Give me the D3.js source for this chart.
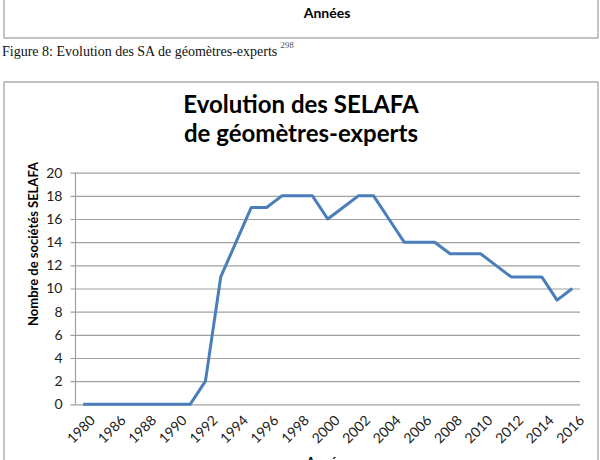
<!DOCTYPE html>
<html>
<head>
<meta charset="utf-8">
<script src="https://cdn.jsdelivr.net/npm/d3@7"></script>
<style>
  body { margin: 0; background: #fff; }
  svg { display: block; }
</style>
</head>
<body>
<div id="chart"></div>
<script>
// Data
const years = ['1980', '1985', '1986', '1987', '1988', '1989', '1990', '1991', '1992', '1993',
  '1994', '1995', '1996', '1997', '1998', '1999', '2000', '2001', '2002', '2003', '2004',
  '2005', '2006', '2007', '2008', '2009', '2010', '2011', '2012', '2013', '2014', '2015', '2016']
const selafa = [0, 0, 0, 0, 0, 0, 0, 0, 2, 11,
  14, 17, 17, 18, 18, 18, 16, 17, 18, 18, 16,
  14, 14, 14, 13, 13, 13, 12, 11, 11, 11, 9, 10]
const yTicks = [0, 2, 4, 6, 8, 10, 12, 14, 16, 18, 20]
const titleLines = ['Evolution des SELAFA', 'de géomètres-experts']

const font = 'Lato, "Open Sans", sans-serif'

// Dimensions
let dimensions = {
  width: 600,
  height: 460,
  plotLeft: 75.5,
  plotRight: 580,
  plotTop: 172.7,
  plotBottom: 404.3,
}

const svg = d3.select('#chart')
  .append('svg')
  .attr('width', dimensions.width)
  .attr('height', dimensions.height)

// upper box (end of previous figure)
svg.append('rect')
  .attr('x', 4).attr('y', -10)
  .attr('width', 594).attr('height', 48)
  .attr('fill', 'none')
  .attr('stroke', '#b0b0b0')
  .attr('stroke-width', 1.5)

svg.append('text')
  .attr('x', 327).attr('y', 18)
  .attr('text-anchor', 'middle')
  .style('font-family', font)
  .style('font-weight', 'bold')
  .style('font-size', '14px')
  .text('Années')

// caption
const caption = svg.append('text')
  .attr('x', 2).attr('y', 56)
  .style('font-family', '"Liberation Serif", "Times New Roman", serif')
  .style('font-size', '14px')
  .attr('fill', '#111')
caption.append('tspan').text('Figure 8: Evolution des SA de géomètres-experts')
caption.append('tspan')
  .attr('dx', 3).attr('dy', -8)
  .style('font-size', '9px')
  .attr('fill', '#555')
  .text('298')

// chart box
svg.append('rect')
  .attr('x', 4).attr('y', 82)
  .attr('width', 594).attr('height', 400)
  .attr('fill', '#fff')
  .attr('stroke', '#b0b0b0')
  .attr('stroke-width', 1.5)

// Title
svg.append('text')
  .attr('text-anchor', 'middle')
  .style('font-family', font)
  .style('font-weight', 'bold')
  .style('font-size', '24px')
  .selectAll('tspan')
  .data(titleLines)
  .join('tspan')
  .attr('x', 301)
  .attr('y', (d, i) => 113 + i * 29)
  .text(d => d)

// Scales
const xScale = d3.scaleBand()
  .domain(years)
  .range([dimensions.plotLeft, dimensions.plotRight])
  .paddingInner(0)
  .paddingOuter(0)

const xPos = d => xScale(d) + xScale.bandwidth() / 2

const yScale = d3.scaleLinear()
  .domain([0, 20])
  .range([dimensions.plotBottom, dimensions.plotTop])

// y axis with gridlines
const yAxis = d3.axisLeft(yScale)
  .tickValues(yTicks)
  .tickSize(-(dimensions.plotRight - dimensions.plotLeft))
  .tickPadding(9)

const yAxisGroup = svg.append('g')
  .attr('transform', `translate(${dimensions.plotLeft}, 0)`)
  .call(yAxis)

yAxisGroup.select('.domain').remove()
yAxisGroup.selectAll('.tick line')
  .attr('x2', dimensions.plotRight - dimensions.plotLeft)
  .attr('x1', -5)
  .attr('stroke', '#a0a0a0')
  .attr('stroke-width', 1.2)
yAxisGroup.selectAll('.tick text')
  .attr('x', -13)
  .style('font-family', font)
  .style('font-size', '14px')
  .attr('fill', '#222')

// vertical axis line
svg.append('line')
  .attr('x1', dimensions.plotLeft).attr('x2', dimensions.plotLeft)
  .attr('y1', dimensions.plotTop).attr('y2', dimensions.plotBottom)
  .attr('stroke', '#a0a0a0')
  .attr('stroke-width', 1.2)

// x axis labels (every second category)
const xLabels = years.filter((d, i) => i % 2 === 0)

svg.append('g')
  .selectAll('text')
  .data(xLabels)
  .join('text')
  .attr('transform', d => `translate(${xPos(d) + 6}, ${dimensions.plotBottom + 10}) rotate(-45)`)
  .attr('text-anchor', 'end')
  .attr('dy', '0.7em')
  .style('font-family', font)
  .style('font-size', '14px')
  .attr('fill', '#222')
  .text(d => d)

// axis titles
svg.append('text')
  .attr('transform', 'translate(38, 244) rotate(-90)')
  .attr('text-anchor', 'middle')
  .style('font-family', font)
  .style('font-weight', 'bold')
  .style('font-size', '13px')
  .text('Nombre de sociétés SELAFA')

svg.append('text')
  .attr('x', 328).attr('y', 467)
  .attr('text-anchor', 'middle')
  .style('font-family', font)
  .style('font-weight', 'bold')
  .style('font-size', '13px')
  .text('Années')

// line
const line = d3.line()
  .x((d, i) => xPos(years[i]))
  .y(d => yScale(d))

svg.append('path')
  .datum(selafa)
  .attr('d', line)
  .attr('fill', 'none')
  .attr('stroke', '#4a7ebb')
  .attr('stroke-width', 3)
  .attr('stroke-linejoin', 'round')
</script>
</body>
</html>
